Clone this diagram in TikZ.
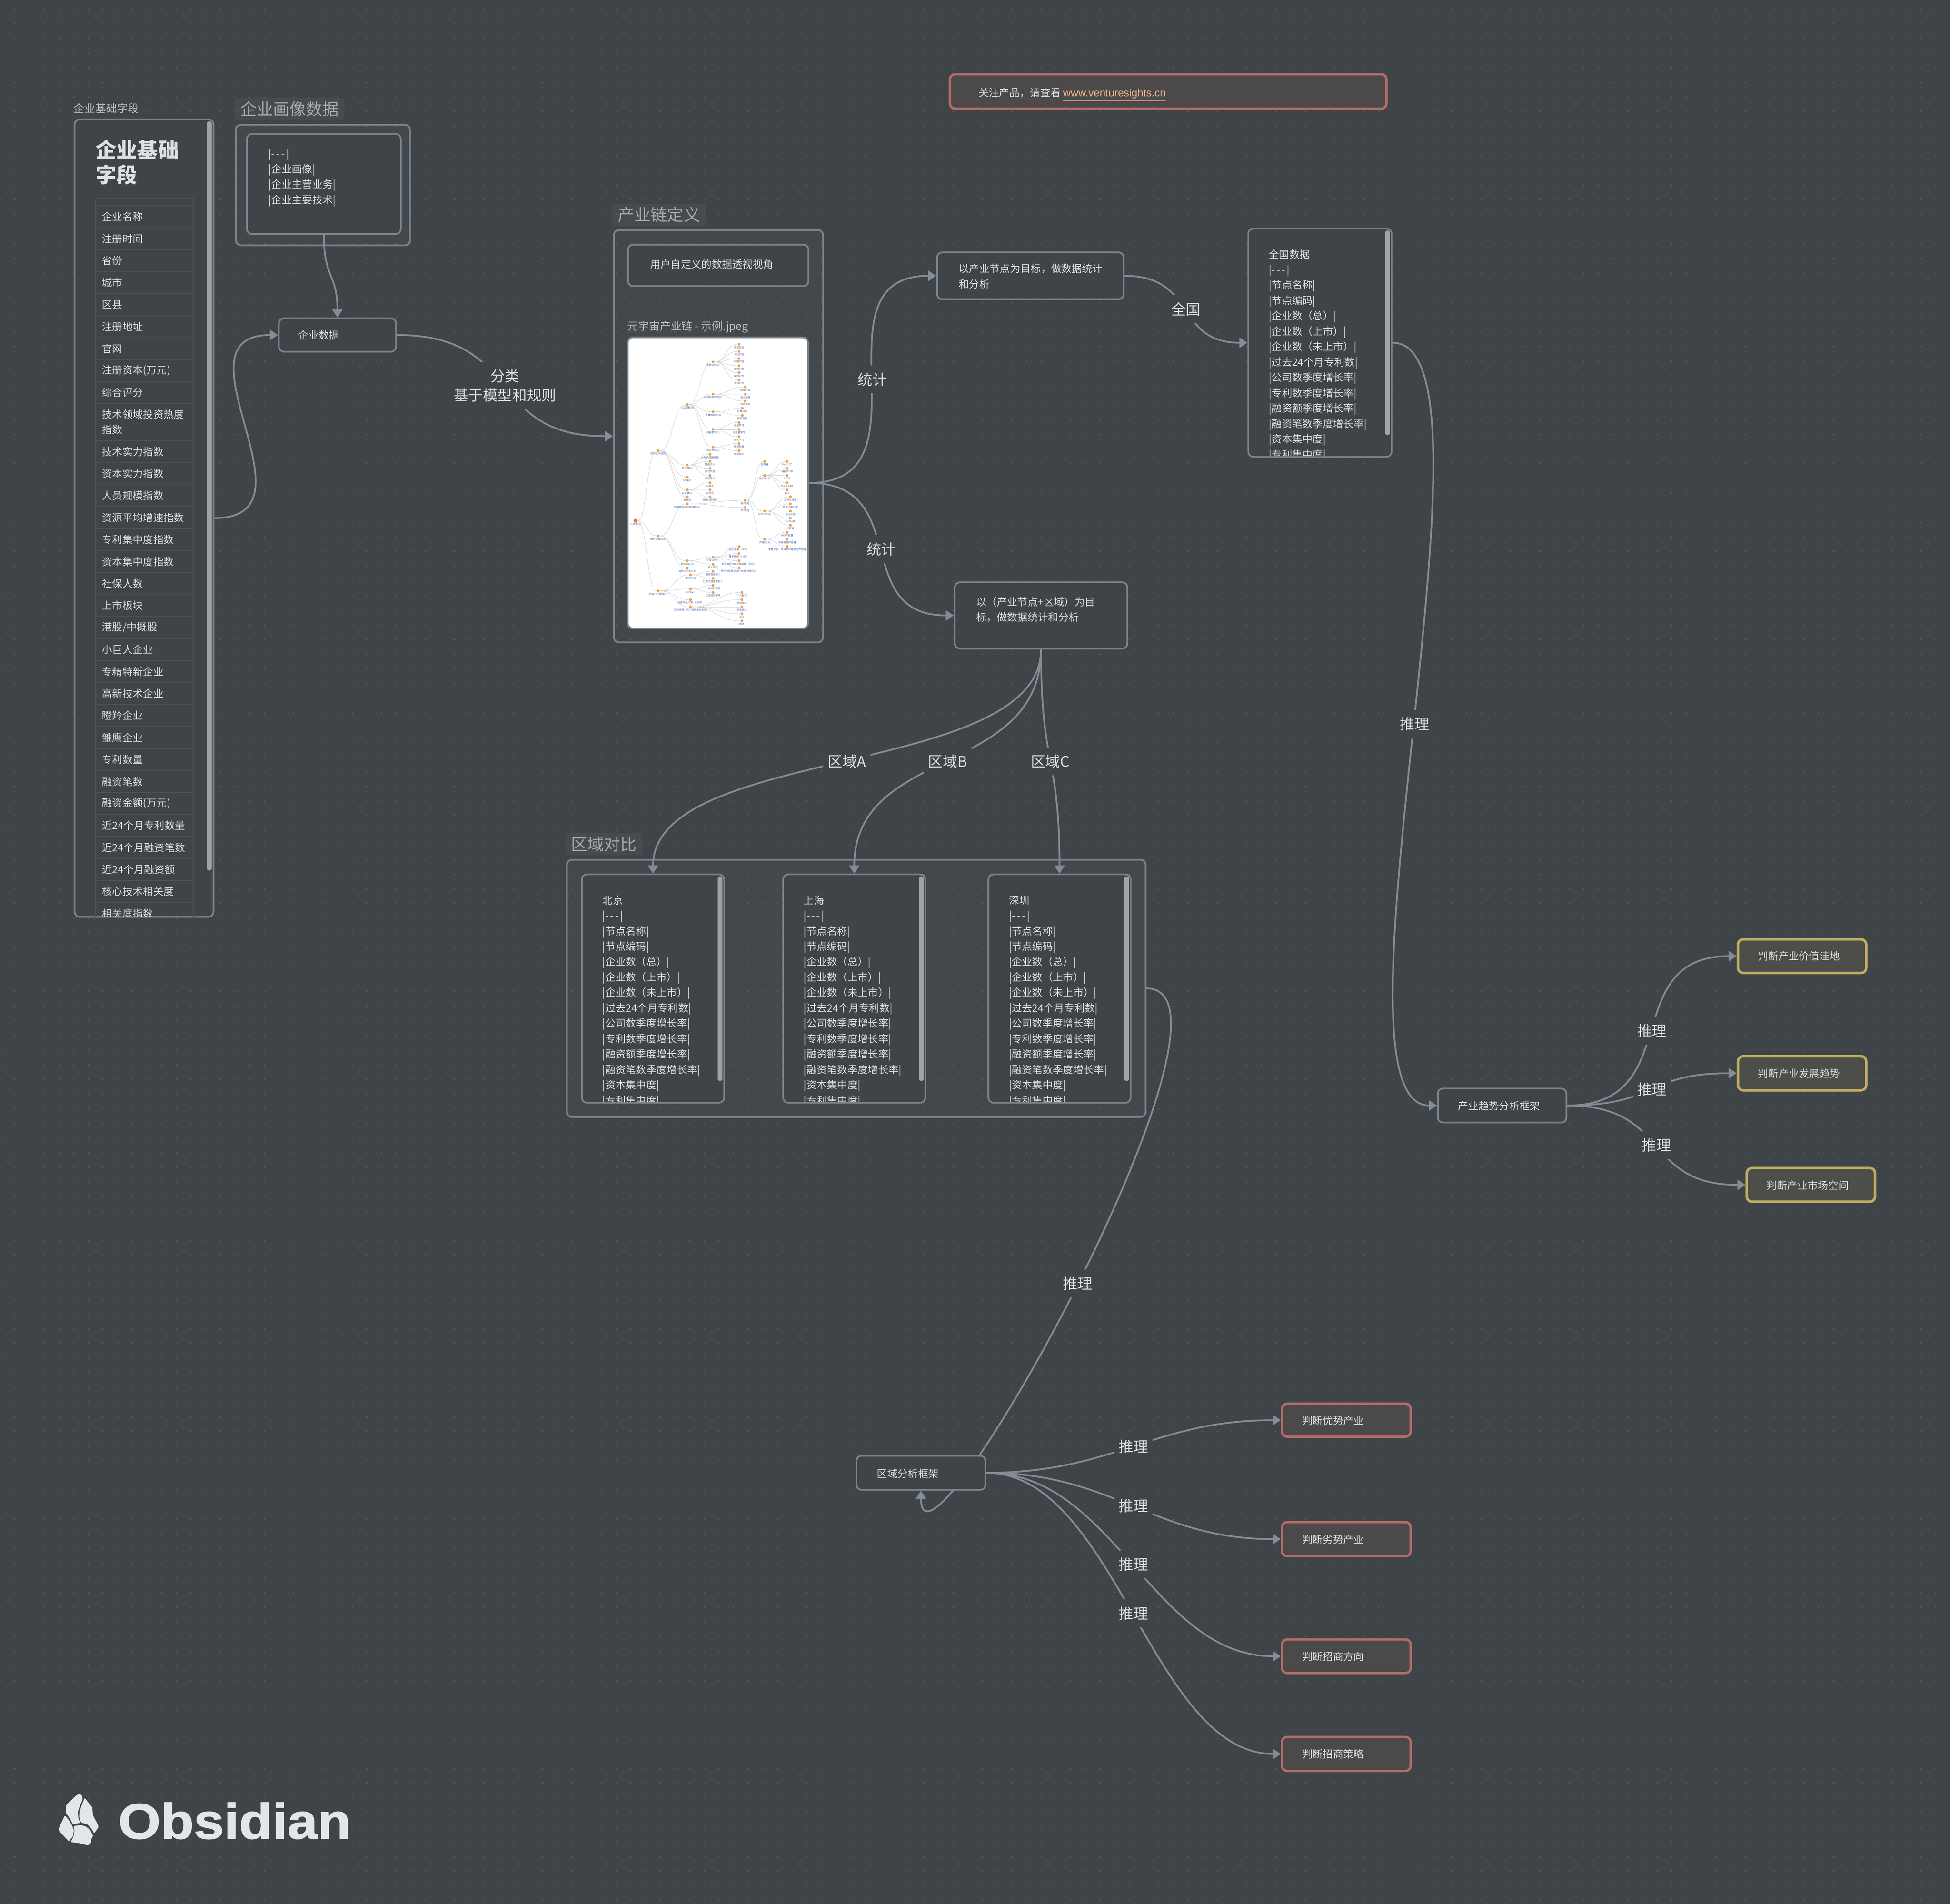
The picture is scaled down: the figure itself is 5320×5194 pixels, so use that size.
\documentclass[tikz,border=0pt]{standalone}
\usepackage{fontspec}
\setmainfont{Noto Sans CJK SC}
\newfontfamily\linkFont{Liberation Sans}
\newfontfamily\logoFont[BoldFeatures={FakeBold=1.5,FakeStretch=1.09}]{Liberation Sans}
\usetikzlibrary{arrows.meta, calc}
\definecolor{bgColor}{HTML}{3F4448}
\definecolor{dotColor}{HTML}{5C6165}
\definecolor{borderColor}{HTML}{7B838B}
\definecolor{edgeColor}{HTML}{858C94}
\definecolor{textColor}{HTML}{DFE0E1}
\definecolor{titleColor}{HTML}{A8ABAE}
\definecolor{barColor}{HTML}{A0A3A6}
\definecolor{cellColor}{HTML}{4C5156}
\definecolor{redLine}{HTML}{B46C68}
\definecolor{redFill}{HTML}{4C494B}
\definecolor{yellowLine}{HTML}{C0AE5F}
\definecolor{yellowFill}{HTML}{4D4D49}
\definecolor{logoColor}{HTML}{E4E5E7}
\definecolor{treeOrange}{HTML}{F2A03D}
\definecolor{treeRed}{HTML}{EF7343}
\definecolor{treeBlue}{HTML}{4060AA}
\pgfdeclarelayer{under}
\pgfsetlayers{under,main}
\tikzstyle{card}=[draw=borderColor, line width=1.15pt, fill=bgColor, rounded corners=3.5pt, inner sep=0pt]
\tikzstyle{group}=[draw=borderColor, line width=1.15pt, fill=white, fill opacity=0.025, rounded corners=3.5pt, inner sep=0pt]
\tikzstyle{redCard}=[card, draw=redLine, fill=redFill, line width=1.6pt]
\tikzstyle{yellowCard}=[card, draw=yellowLine, fill=yellowFill, line width=1.7pt]
\tikzstyle{noteText}=[anchor=north west, yshift=4.35pt, inner sep=0pt, align=left, text=textColor, font=\fontsize{7}{10.5}\selectfont]
\tikzstyle{bareText}=[anchor=west, inner sep=0pt, text=titleColor!60!textColor, font=\fontsize{7.4}{9}\selectfont]
\tikzstyle{groupTitle}=[fill=white, fill opacity=0.04, text opacity=1, rounded corners=2pt, inner sep=0pt, text=titleColor, font=\fontsize{11.2}{13}\selectfont]
\tikzstyle{scrollBar}=[fill=barColor, rounded corners=1.6pt, inner sep=0pt]
\tikzstyle{rowCell}=[draw=cellColor, line width=0.6pt, anchor=north west, minimum width=66.5pt, minimum height=15pt, text width=58pt, inner xsep=4.25pt, inner ysep=0pt, align=left, text=textColor, font=\fontsize{7}{10.25}\selectfont]
\tikzstyle{arrow}=[-{Triangle[length=5.5pt,width=7pt]}, line width=1.15pt, edgeColor]
\tikzstyle{edgeLabel}=[midway, fill=bgColor, inner xsep=3pt, inner ysep=0pt, minimum height=19pt, align=center, text=textColor, font=\fontsize{10}{13}\selectfont]
\tikzstyle{treeDot}=[circle, fill=treeOrange, minimum size=1.9pt, inner sep=0pt]
\tikzstyle{treeLabel}=[inner sep=0pt, text=treeBlue, font=\fontsize{1.7}{2}\selectfont]
\tikzstyle{treeLink}=[draw=black!22, line width=0.2pt]
\newcommand\dashRow{|-\kern1pt-\kern1pt-\kern1pt|}
\newcommand\regionRows{\dashRow\\|节点名称|\\|节点编码|\\|企业数（总）|\\|企业数（上市）|\\|企业数（未上市）|\\|过去24个月专利数|\\|公司数季度增长率|\\|专利数季度增长率|\\|融资额季度增长率|\\|融资笔数季度增长率|\\|资本集中度|\\|专利集中度|}
\newcommand\nodeBox{}
\def\nodeBox[#1](#2)(#3,#4)(#5,#6){%
  \node[#1, minimum width={(#5-#3-5)*0.25pt}, minimum height={(#6-#4-5)*0.25pt}] (#2) at ({(#3+#5)/2},{(#4+#6)/2}) {};
}
\newcommand\nodeNote{}
\def\nodeNote[#1](#2)(#3,#4)(#5,#6)(#7,#8)#9{%
  \nodeBox[#1](#2)(#3,#4)(#5,#6)
  \node[noteText] (#2Text) at (#7,#8) {\rule{0pt}{7pt}#9};
}
\newcommand\nodeList{}
\def\nodeList(#1)(#2,#3)(#4,#5)(#6,#7)(#8)#9{%
  \nodeBox[card](#1)(#2,#3)(#4,#5)
  \begin{scope}
    \clip (#2,#3) rectangle (#4,#5-6);
    \node[noteText] (#1Text) at (#6,#7) {\rule{0pt}{7pt}#9};
  \end{scope}
  \node[scrollBar, minimum width=3.25pt, minimum height={(#8-#3-8)*0.25pt}] (#1Bar) at ({#4-13.5},{(#3+8+#8)/2}) {};
}
\newcommand\nodeTree{}
\def\nodeTree(#1)(#2,#3)(#4)#5{%
  \node[treeDot] (#1) at (#2,#3) {};
  \node[treeLabel] (#1Label) at (#2,#3+15) {#5};
  \coordinate (treeMid) at ($(#4)!.5!(#1)$);
  \draw[treeLink] (#4) .. controls (treeMid |- #4) and (treeMid |- #1) .. (#1);
}

\begin{document}
\begin{tikzpicture}[x=0.25pt, y=-0.25pt]
  \useasboundingbox (0,0) rectangle (5320,5194);
  \begin{pgfonlayer}{under}
    \fill[bgColor] (0,0) rectangle (5320,5194);
    \foreach \y in {25,65,...,5185} {
      \draw[dotColor, line width=1pt, line cap=round, dash pattern=on 0pt off 10pt] (1,\y) -- (5320,\y);
    }
  \end{pgfonlayer}

  % left field table
  \node[bareText] (fieldCaption) at (200,296) {企业基础字段};
  \nodeBox[card](fieldPanel)(201,323)(585,2504)
  \node[scrollBar, minimum width=3.3pt, minimum height=511pt] (fieldBar) at (571,1353) {};
  \node[anchor=north west, inner sep=0pt, align=left, text=textColor, font=\fontsize{14.2}{17.2}\bfseries] (fieldHead) at (260,380) {企业基础\\字段};
  \begin{scope}
    \clip (204,326) rectangle (582,2501);
    \node[rowCell, minimum height=4.75pt] (rowHead) at (260,541) {};
    \foreach \rowText [count=\i] in {企业名称,注册时间,省份,城市,区县,注册地址,官网,注册资本(万元),综合评分} {
      \node[rowCell] (rowA\i) at (260,{500+60*\i}) {\rowText};
    }
    \node[rowCell, minimum height=25pt] (rowTech) at (260,1100) {技术领域投资热度\\指数};
    \foreach \rowText [count=\i] in {技术实力指数,资本实力指数,人员规模指数,资源平均增速指数,专利集中度指数,资本集中度指数,社保人数,上市板块,港股/中概股,小巨人企业,专精特新企业,高新技术企业,瞪羚企业,雏鹰企业,专利数量,融资笔数,融资金额(万元),近24个月专利数量,近24个月融资笔数,近24个月融资额,核心技术相关度,相关度指数} {
      \node[rowCell] (rowB\i) at (260,{1141+60*\i}) {\rowText};
    }
  \end{scope}

  % portrait group
  \nodeBox[group](portraitGroup)(641,338)(1121,672)
  \node[groupTitle, minimum width=75pt, minimum height=15pt] (portraitTitle) at (790,297) {企业画像数据};
  \nodeNote[card](portraitCard)(671,363)(1096,641)(732,418){\dashRow\\|企业画像|\\|企业主营业务|\\|企业主要技术|}
  \nodeNote[card](dataNode)(758,866)(1083,962)(813,914){企业数据}

  % chain group
  \nodeBox[group](chainGroup)(1672,625)(2248,1755)
  \node[groupTitle, minimum width=64pt, minimum height=15pt] (chainTitle) at (1798,586) {产业链定义};
  \nodeNote[card](viewCard)(1711,665)(2208,783)(1773,720){用户自定义的数据透视视角}
  \node[bareText] (imageCaption) at (1711,892) {元宇宙产业链 - 示例.jpeg};
  \nodeBox[card, fill=white](chainImage)(1710,918)(2207,1717)

  \begin{scope}[shift={(1650,880)}, x=0.09567pt, y=-0.14351pt]
    \node[circle, fill=treeRed, minimum size=2.8pt, inner sep=0pt] (treeRoot) at (219,942) {};
    \node[treeLabel] (treeRootLabel) at (219,959) {元宇宙[3]};
    \nodeTree(base)(381,609)(treeRoot){底层技术层[5]}
    \nodeTree(device)(381,1014)(treeRoot){硬件设备层[3]}
    \nodeTree(content)(381,1275)(treeRoot){内容与产出层[4]}
    \nodeTree(ai)(588,390)(base){人工智能[6]}
    \nodeTree(block)(588,677)(base){区块链[4]}
    \nodeTree(fiveG)(588,735)(base){5G通讯}
    \nodeTree(cloud)(588,795)(base){云计算[3]}
    \nodeTree(iot)(588,828)(base){物联网}
    \nodeTree(bio)(772,187)(ai){生物识别[6]}
    \nodeTree(nlp)(772,340)(ai){自然语言处理[3]}
    \nodeTree(vision)(772,424)(ai){计算机视觉[2]}
    \nodeTree(learn)(772,508)(ai){机器学习[3]}
    \nodeTree(graph)(772,592)(ai){知识图谱[2]}
    \nodeTree(bioA)(957,103)(bio){语音识别}
    \nodeTree(bioB)(957,137)(bio){人脸识别}
    \nodeTree(bioC)(957,171)(bio){虹膜识别}
    \nodeTree(bioD)(957,205)(bio){指纹识别}
    \nodeTree(bioE)(957,238)(bio){掌纹识别}
    \nodeTree(bioF)(957,272)(bio){手势识别}
    \nodeTree(nlpA)(1002,306)(nlp){机器翻译}
    \nodeTree(nlpB)(1002,340)(nlp){语义理解}
    \nodeTree(nlpC)(1002,373)(nlp){问答系统}
    \nodeTree(visionA)(980,407)(vision){计算成像}
    \nodeTree(visionB)(980,441)(vision){图形理解}
    \nodeTree(learnA)(957,475)(learn){监督学习}
    \nodeTree(learnB)(957,508)(learn){无监督学习}
    \nodeTree(learnC)(957,542)(learn){强化学习}
    \nodeTree(graphA)(957,575)(graph){知识抽取}
    \nodeTree(graphB)(957,609)(graph){知识表示}
    \nodeTree(blockA)(750,626)(block){分布式数据存储}
    \nodeTree(blockB)(750,660)(block){智能合约}
    \nodeTree(blockC)(750,693)(block){共识机制}
    \nodeTree(blockD)(750,727)(block){加密算法}
    \nodeTree(cloudA)(750,761)(cloud){云服务}
    \nodeTree(cloudB)(750,795)(cloud){云安全}
    \nodeTree(cloudC)(750,828)(cloud){网络运营服务}
    \nodeTree(xr)(588,862)(device){拓展现实[VR/AR/MR][2]}
    \nodeTree(brain)(588,1132)(device){脑机接口[2]}
    \nodeTree(robot)(588,1166)(device){机器人与无人机}
    \nodeTree(xrHard)(1000,845)(xr){硬件[4]}
    \nodeTree(xrSoft)(1000,879)(xr){软件[2]}
    \nodeTree(chip)(1139,660)(xrHard){处理器}
    \nodeTree(screen)(1139,727)(xrHard){显示屏[5]}
    \nodeTree(optic)(1139,896)(xrHard){光学元件[5]}
    \nodeTree(sensor)(1139,1030)(xrHard){传感器[3]}
    \nodeTree(screenA)(1300,660)(screen){Fast-LCD}
    \nodeTree(screenB)(1300,693)(screen){硅基OLED}
    \nodeTree(screenC)(1300,727)(screen){LCOS}
    \nodeTree(screenD)(1300,761)(screen){Micro-LED}
    \nodeTree(screenE)(1300,795)(screen){DLP}
    \nodeTree(opticA)(1323,828)(optic){菲涅尔方案}
    \nodeTree(opticB)(1323,862)(optic){折叠光路方案}
    \nodeTree(opticC)(1323,896)(optic){自由曲面}
    \nodeTree(opticD)(1323,930)(optic){Birdbath}
    \nodeTree(opticE)(1323,963)(optic){光波导}
    \nodeTree(sensorA)(1300,997)(sensor){IMU传感器}
    \nodeTree(sensorB)(1300,1030)(sensor){动作捕捉传感器}
    \nodeTree(sensorC)(1300,1064)(sensor){手势识别、眼球追踪等其他传感器}
    \nodeTree(brainA)(772,1115)(brain){非侵入式[4]}
    \nodeTree(brainB)(772,1149)(brain){侵入式[2]}
    \nodeTree(eeg)(957,1064)(brainA){基于脑电（EEG）}
    \nodeTree(meg)(957,1098)(brainA){基于脑磁（MEG）}
    \nodeTree(fmri)(957,1132)(brainA){基于功能性磁共振成像（fMRI）}
    \nodeTree(fnirs)(957,1166)(brainA){基于功能性近红外光谱（fNIRS）}
    \nodeTree(human)(611,1199)(content){虚拟人[2]}
    \nodeTree(nft)(611,1266)(content){NFT[2]}
    \nodeTree(ugc)(611,1317)(content){创作平台/工具（UCG）}
    \nodeTree(scene)(611,1351)(content){应用场景：元宇宙解决方案[5]}
    \nodeTree(humanA)(772,1182)(human){服务型虚拟人}
    \nodeTree(humanB)(772,1216)(human){社交文娱型虚拟人}
    \nodeTree(nftA)(772,1249)(nft){一级发行市场}
    \nodeTree(nftB)(772,1283)(nft){二级交易市场}
    \nodeTree(sceneA)(977,1283)(scene){广义社交}
    \nodeTree(sceneB)(977,1317)(scene){游戏领域}
    \nodeTree(sceneC)(977,1351)(scene){军事领域}
    \nodeTree(sceneD)(977,1384)(scene){工业}
    \nodeTree(sceneE)(977,1418)(scene){医养}
  \end{scope}

  % statistics targets
  \nodeNote[redCard](bannerCard)(2589,200)(3785,299)(2669,252){关注产品，请查看 {\linkFont\color[HTML]{F2B48C}\fontsize{7.25}{10}\selectfont\underline{www.venturesights.cn}}}
  \nodeNote[card](nodeStats)(2554,686)(3068,819)(2615,732){以产业节点为目标，做数据统计\\和分析}
  \nodeNote[card](regionStats)(2602,1586)(3078,1772)(2663,1641){以（产业节点+区域）为目\\标，做数据统计和分析}
  \nodeList(nationList)(3403,621)(3799,1249)(3461,693)(1187){全国数据\\\regionRows}

  % region group
  \nodeBox[group](regionGroup)(1544,2343)(3128,3050)
  \node[groupTitle, minimum width=52.5pt, minimum height=15.25pt] (regionTitle) at (1648,2303) {区域对比};
  \nodeList(beijingList)(1585,2383)(1978,3011)(1643,2455)(2949){北京\\\regionRows}
  \nodeList(shanghaiList)(2134,2383)(2527,3011)(2192,2455)(2949){上海\\\regionRows}
  \nodeList(shenzhenList)(2694,2383)(3087,3011)(2752,2455)(2949){深圳\\\regionRows}

  % frames and conclusions
  \nodeNote[card](trendFrame)(3920,2967)(4276,3065)(3977,3016){产业趋势分析框架}
  \nodeNote[yellowCard](trendA)(4739,2560)(5094,2657)(4795,2608){判断产业价值洼地}
  \nodeNote[yellowCard](trendB)(4739,2879)(5094,2977)(4795,2928){判断产业发展趋势}
  \nodeNote[yellowCard](trendC)(4763,3184)(5118,3281)(4819,3233){判断产业市场空间}
  \nodeNote[card](regionFrame)(2334,3969)(2691,4067)(2392,4019){区域分析框架}
  \nodeNote[redCard](judgeA)(3495,3827)(3851,3922)(3552,3875){判断优势产业}
  \nodeNote[redCard](judgeB)(3495,4150)(3851,4248)(3552,4199){判断劣势产业}
  \nodeNote[redCard](judgeC)(3495,4470)(3851,4567)(3552,4519){判断招商方向}
  \nodeNote[redCard](judgeD)(3495,4736)(3851,4834)(3552,4785){判断招商策略}

  \draw[arrow] (portraitCard.south) .. controls +(0,120) and +(0,-120) .. (dataNode.north);
  \draw[arrow] (fieldPanel.east) .. controls +(300,0) and +(-300,0) .. (dataNode.west);
  \draw[arrow] (dataNode.east) .. controls +(350,0) and +(-350,0) .. (chainGroup.west) node[edgeLabel, minimum height=32pt] (labelClass) {分类\\基于模型和规则};
  \draw[arrow] (chainImage.east) .. controls +(347,0) and +(-347,0) .. (nodeStats.west) node[edgeLabel] (labelStatsA) {统计};
  \draw[arrow] (chainImage.east) .. controls +(285,0) and +(-285,0) .. (regionStats.west) node[edgeLabel] (labelStatsB) {统计};
  \draw[arrow] (nodeStats.east) .. controls +(200,0) and +(-200,0) .. (nationList.west) node[edgeLabel] (labelNation) {全国};
  \draw[arrow] (nationList.east) .. controls +(330,0) and +(-330,0) .. (trendFrame.west) node[edgeLabel] (labelInferA) {推理};
  \draw[arrow] (regionStats.south) .. controls +(0,350) and +(0,-350) .. (beijingList.north) node[edgeLabel] (labelRegionA) {区域A};
  \draw[arrow] (regionStats.south) .. controls +(0,350) and +(0,-350) .. (shanghaiList.north) node[edgeLabel] (labelRegionB) {区域B};
  \draw[arrow] (regionStats.south) .. controls +(0,325) and +(0,-325) .. (shenzhenList.north) node[edgeLabel] (labelRegionC) {区域C};
  \begin{pgfonlayer}{under}
    \draw[arrow] (regionGroup.east) .. controls +(320,0) and +(0,320) .. (regionFrame.south) node[edgeLabel] (labelInferB) {推理};
  \end{pgfonlayer}
  \draw[arrow] (trendFrame.east) .. controls +(327,0) and +(-327,0) .. (trendA.west) node[edgeLabel] (labelTrendA) {推理};
  \draw[arrow] (trendFrame.east) .. controls +(250,0) and +(-250,0) .. (trendB.west) node[edgeLabel] (labelTrendB) {推理};
  \draw[arrow] (trendFrame.east) .. controls +(283,0) and +(-283,0) .. (trendC.west) node[edgeLabel] (labelTrendC) {推理};
  \draw[arrow] (regionFrame.east) .. controls +(350,0) and +(-350,0) .. (judgeA.west) node[edgeLabel] (labelJudgeA) {推理};
  \draw[arrow] (regionFrame.east) .. controls +(350,0) and +(-350,0) .. (judgeB.west) node[edgeLabel] (labelJudgeB) {推理};
  \draw[arrow] (regionFrame.east) .. controls +(350,0) and +(-350,0) .. (judgeC.west) node[edgeLabel] (labelJudgeC) {推理};
  \draw[arrow] (regionFrame.east) .. controls +(350,0) and +(-350,0) .. (judgeD.west) node[edgeLabel] (labelJudgeD) {推理};

  % logo
  \node[anchor=base west, inner sep=0pt, text=logoColor, font=\fontsize{34}{36}\logoFont\bfseries] (logoText) at (322,5016) {Obsidian};
  \begin{scope}[shift={(100,4860)}, x=0.1435pt, y=-0.0833pt]
    \fill[logoColor, rounded corners=0.6pt]
      (205,102) -- (217,120) -- (218,150) -- (205,200) -- (196,250) -- (198,300) -- (207,340) -- (172,350) -- (160,310) -- (138,255) -- (140,195) -- (148,180) -- (190,112) -- cycle
      (228,135) -- (264,212) -- (268,280) -- (293,360) -- (293,378) -- (273,425) -- (260,385) -- (240,350) -- (212,338) -- (203,300) -- (203,250) -- (215,190) -- cycle
      (134,278) -- (150,310) -- (165,350) -- (177,400) -- (172,450) -- (153,490) -- (106,405) -- (106,380) -- cycle
      (176,365) -- (210,357) -- (235,370) -- (255,400) -- (268,445) -- (260,470) -- (258,505) -- (245,522) -- (235,520) -- (200,505) -- (162,497) -- (175,450) -- (180,405) -- cycle;
  \end{scope}
\end{tikzpicture}
\end{document}
